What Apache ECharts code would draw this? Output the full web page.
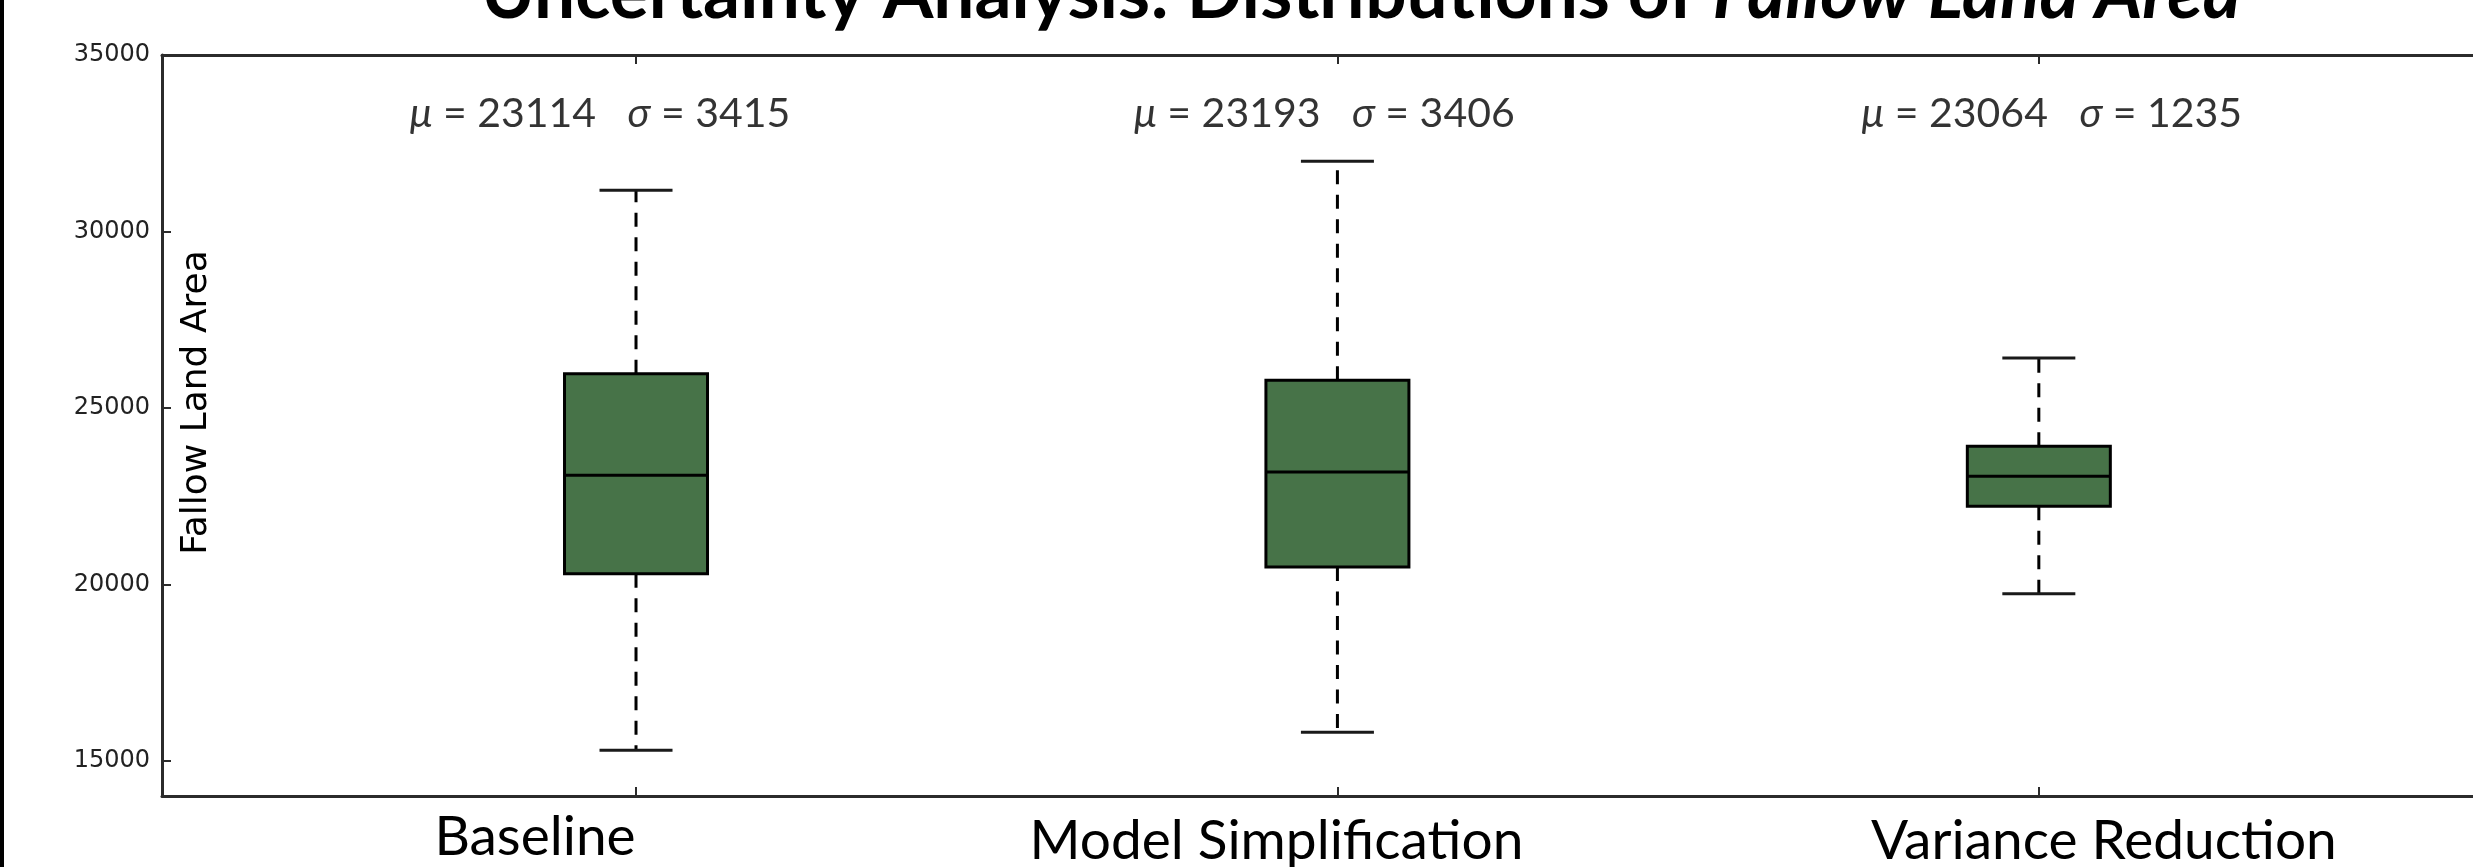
<!DOCTYPE html>
<html>
<head>
<meta charset="utf-8">
<style>
  html, body { margin: 0; padding: 0; background: #ffffff; }
  #chart { width: 2473px; height: 867px; }
</style>
<script src="https://cdn.jsdelivr.net/npm/echarts@6/dist/echarts.min.js"></script>
</head>
<body>
<div id="chart"></div>
<script>
// ---------------- data ----------------
const categories  = ['Baseline', 'Model Simplification', 'Variance Reduction'];
const positions   = [1, 2, 3];
const whiskerLow  = [15300, 15810, 19730];
const quartile1   = [20300, 20490, 22210];
const medians     = [23090, 23180, 23060];
const quartile3   = [25970, 25780, 23910];
const whiskerHigh = [31170, 31990, 26410];
const means       = [23114, 23193, 23064];
const stdDevs     = [3415, 3406, 1235];
const yTicks      = [15000, 20000, 25000, 30000, 35000];
const titleMain   = 'Uncertainty Analysis: Distributions of ';
const titleItalic = 'Fallow Land Area';
const yAxisTitle  = 'Fallow Land Area';

// ---------------- styling / layout constants ----------------
const GREEN = '#477348';
const SPINE = '#2b2b2b';
const BOX_W = 143;
const CAP_W = 73;
const STAT_Y = 33330;
const statOffsets = [-36, -13, 13];
const catPads = [[0, 202, 0, 0], [4, 122, 0, 0], [4, 0, 0, 130]];

const boxData = positions.map((p, i) => [p, whiskerLow[i], quartile1[i], medians[i], quartile3[i], whiskerHigh[i]]);
const statData = positions.map((p, i) => ({
  value: [p, STAT_Y],
  label: { offset: [statOffsets[i], 0] },
  name: '{i|\u03bc} = ' + means[i] + '   {i|\u03c3} = ' + stdDevs[i]
}));

const catRich = {};
catPads.forEach((pad, i) => { catRich['c' + i] = { padding: pad }; });

const chart = echarts.init(document.getElementById('chart'));

const option = {
  animation: false,
  backgroundColor: '#ffffff',
  textStyle: { fontFamily: 'Lato' },
  title: {
    text: '{a|' + titleMain + '}{b|' + titleItalic + '}',
    left: 476,
    top: -47,
    padding: 5,
    textStyle: {
      fontFamily: 'Lato', fontSize: 73, fontWeight: 'bold', color: '#000',
      rich: {
        a: { fontFamily: 'Lato', fontSize: 73, fontWeight: 'bold', color: '#000' },
        b: { fontFamily: 'Lato', fontSize: 73, fontWeight: 'bold', fontStyle: 'italic', color: '#000' }
      }
    }
  },
  graphic: [
    { type: 'rect', left: 0, top: 0, shape: { width: 4, height: 867 }, style: { fill: '#000' }, z: 100 }
  ],
  grid: { left: 162, right: 0, top: 55, bottom: 71, outerBoundsMode: 'none', containLabel: false },
  xAxis: [
    {
      type: 'value', position: 'bottom',
      min: 0.3242, max: 3.619,
      axisLine: { show: true, lineStyle: { color: SPINE, width: 3 } },
      axisTick: { show: true, inside: true, length: 9, customValues: positions, lineStyle: { color: SPINE, width: 2 } },
      axisLabel: {
        show: true, customValues: positions, margin: 14,
        fontFamily: 'Lato', fontSize: 55, color: '#000',
        formatter: function (v) {
          const i = positions.indexOf(Math.round(v));
          return i < 0 ? '' : '{c' + i + '|' + categories[i] + '}';
        },
        rich: catRich
      },
      splitLine: { show: false }
    },
    {
      type: 'value', position: 'top',
      min: 0.3242, max: 3.619,
      axisLine: { show: true, lineStyle: { color: SPINE, width: 3 } },
      axisTick: { show: true, inside: true, length: 9, customValues: positions, lineStyle: { color: SPINE, width: 2 } },
      axisLabel: { show: false },
      splitLine: { show: false }
    }
  ],
  yAxis: {
    type: 'value', min: 14000, max: 35000,
    name: yAxisTitle,
    nameLocation: 'middle',
    nameGap: -35,
    nameRotate: 90,
    nameTextStyle: { fontFamily: 'DejaVu Sans', fontSize: 36, color: '#000', verticalAlign: 'middle', align: 'center', padding: [0, 0, 0, 46] },
    axisLine: { show: true, lineStyle: { color: SPINE, width: 3 } },
    axisTick: { show: true, inside: true, length: 9, customValues: yTicks, lineStyle: { color: SPINE, width: 2 } },
    axisLabel: {
      show: true, customValues: yTicks, margin: 12, fontFamily: 'DejaVu Sans', fontSize: 24, color: '#222',
      formatter: function (v) { return String(v); }
    },
    splitLine: { show: false }
  },
  series: [
    {
      type: 'custom',
      xAxisIndex: 0, yAxisIndex: 0,
      data: boxData,
      renderItem: function (params, api) {
        const x = api.value(0);
        const pLow = api.coord([x, api.value(1)]);
        const cx = pLow[0];
        const yLow = pLow[1];
        const yQ1 = api.coord([x, api.value(2)])[1];
        const yMed = api.coord([x, api.value(3)])[1];
        const yQ3 = api.coord([x, api.value(4)])[1];
        const yHigh = api.coord([x, api.value(5)])[1];
        const dash = { stroke: '#000', lineWidth: 3, lineDash: [14, 10.5], fill: null };
        const solid = { stroke: '#1a1a1a', lineWidth: 3, fill: null };
        return {
          type: 'group',
          children: [
            { type: 'line', shape: { x1: cx, y1: yQ3, x2: cx, y2: yHigh }, style: dash },
            { type: 'line', shape: { x1: cx, y1: yQ1, x2: cx, y2: yLow }, style: dash },
            { type: 'line', shape: { x1: cx - CAP_W / 2, y1: yHigh, x2: cx + CAP_W / 2, y2: yHigh }, style: solid },
            { type: 'line', shape: { x1: cx - CAP_W / 2, y1: yLow, x2: cx + CAP_W / 2, y2: yLow }, style: solid },
            { type: 'rect', shape: { x: cx - BOX_W / 2, y: yQ3, width: BOX_W, height: yQ1 - yQ3 },
              style: { fill: GREEN, stroke: '#000', lineWidth: 3 } },
            { type: 'line', shape: { x1: cx - BOX_W / 2, y1: yMed, x2: cx + BOX_W / 2, y2: yMed },
              style: { stroke: '#000', lineWidth: 3 } }
          ]
        };
      }
    },
    {
      type: 'scatter',
      xAxisIndex: 0, yAxisIndex: 0,
      symbolSize: 0,
      data: statData,
      label: {
        show: true, position: 'inside',
        fontFamily: 'Lato', fontSize: 41, color: '#000',
        formatter: function (p) { return p.name; },
        rich: { i: { fontFamily: 'Lato', fontSize: 41, fontStyle: 'italic', color: '#000' } }
      },
      emphasis: { disabled: true },
      silent: true
    }
  ]
};

chart.setOption(option);
</script>
</body>
</html>
